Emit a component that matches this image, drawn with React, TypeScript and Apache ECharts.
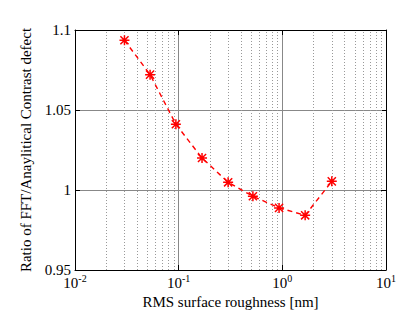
import React, { useEffect, useRef } from "react";
import * as echarts from "echarts";

const roughness = [0.03, 0.053, 0.094, 0.168, 0.3, 0.52, 0.93, 1.66, 3.0];
const ratio = [1.0936, 1.0721, 1.0411, 1.02, 1.0048, 0.9961, 0.9888, 0.9842, 1.0054];
const yTicks = [0.95, 1.0, 1.05, 1.1];
const minorX = [
  0.02, 0.03, 0.04, 0.05, 0.06, 0.07, 0.08, 0.09,
  0.2, 0.3, 0.4, 0.5, 0.6, 0.7, 0.8, 0.9,
  2, 3, 4, 5, 6, 7, 8, 9,
];

const FONT = "Liberation Serif";
const STAR =
  "path://M4.25,0h1.5v10h-1.5z M0,4.25h10v1.5h-10z M1.45,0.4L9.6,8.55L8.55,9.6L0.4,1.45z M8.55,0.4L9.6,1.45L1.45,9.6L0.4,8.55z";

export default function App() {
  const ref = useRef<HTMLDivElement>(null);
  useEffect(() => {
    if (!ref.current) return;
    const chart = echarts.init(ref.current, undefined, { renderer: "svg" });
    const supFmt = (v: number) => {
      const e = Math.round(Math.log10(v));
      return `{b|10}{s|${e}}`;
    };
    const rich = {
      b: { fontFamily: FONT, fontSize: 15, color: "#000" },
      s: { fontFamily: FONT, fontSize: 10, color: "#000", padding: [0, 0, 9, 0] },
    };
    chart.setOption({
      animation: false,
      backgroundColor: "#fff",
      grid: { left: 75, right: 30, top: 30, bottom: 54, containLabel: false },
      xAxis: [
        {
          type: "log",
          logBase: 10,
          min: 0.01,
          max: 10,
          name: "RMS surface roughness [nm]",
          nameLocation: "middle",
          nameGap: 16,
          nameTextStyle: { fontFamily: FONT, fontSize: 15, color: "#000", verticalAlign: "top" },
          axisLine: { show: true, lineStyle: { color: "#000", width: 1 } },
          axisTick: { show: true, inside: true, length: 5, lineStyle: { color: "#000" } },
          axisLabel: { formatter: supFmt, rich, margin: 3 },
          splitLine: { show: true, lineStyle: { color: "#888", width: 1, type: "solid" } },
          minorTick: { show: false },
        },
        {
          type: "log",
          logBase: 10,
          min: 0.01,
          max: 10,
          position: "top",
          axisLine: { show: true, lineStyle: { color: "#000", width: 1 } },
          axisTick: { show: true, inside: true, length: 5, lineStyle: { color: "#000" } },
          axisLabel: { show: false },
          splitLine: { show: false },
        },
      ],
      yAxis: [
        {
          type: "value",
          min: 0.95,
          max: 1.1,
          interval: 0.05,
          name: "Ratio of FFT/Anaylitical Contrast defect",
          nameLocation: "middle",
          nameGap: 35,
          nameTextStyle: { fontFamily: FONT, fontSize: 15, color: "#000" },
          axisLine: { show: true, lineStyle: { color: "#000", width: 1 } },
          axisTick: { show: true, inside: true, length: 5, lineStyle: { color: "#000" } },
          axisLabel: {
            fontFamily: FONT,
            fontSize: 15,
            color: "#000",
            margin: 4,
            formatter: (v: number) => {
              const m = yTicks.find((t) => Math.abs(t - v) < 1e-9);
              return String(parseFloat((m ?? v).toFixed(2)));
            },
          },
          splitLine: { show: true, lineStyle: { color: "#888", width: 1 } },
        },
        {
          type: "value",
          min: 0.95,
          max: 1.1,
          interval: 0.05,
          position: "right",
          axisLine: { show: true, lineStyle: { color: "#000", width: 1 } },
          axisTick: { show: true, inside: true, length: 5, lineStyle: { color: "#000" } },
          axisLabel: { show: false },
          splitLine: { show: false },
        },
      ],
      series: [
        {
          type: "line",
          xAxisIndex: 0,
          yAxisIndex: 0,
          data: roughness.map((x, i) => [x, ratio[i]]),
          showSymbol: false,
          silent: true,
          z: 1,
          lineStyle: { opacity: 0, width: 0 },
          markLine: {
            silent: true,
            symbol: ["none", "none"],
            label: { show: false },
            lineStyle: { color: "#999", width: 1, type: [1, 2] },
            data: minorX.map((v) => ({ xAxis: v })),
          },
        },
        {
          type: "line",
          xAxisIndex: 0,
          yAxisIndex: 0,
          data: roughness.map((x, i) => [x, ratio[i]]),
          z: 5,
          symbol: STAR,
          symbolSize: 10,
          itemStyle: { color: "#ff0000" },
          lineStyle: { color: "#ff0000", width: 1.4, type: [5, 4] },
        },
      ],
    });
    return () => chart.dispose();
  }, []);
  return (
    <div
      ref={ref}
      style={{ position: "fixed", left: 0, top: 0, width: 416, height: 324 }}
    />
  );
}
